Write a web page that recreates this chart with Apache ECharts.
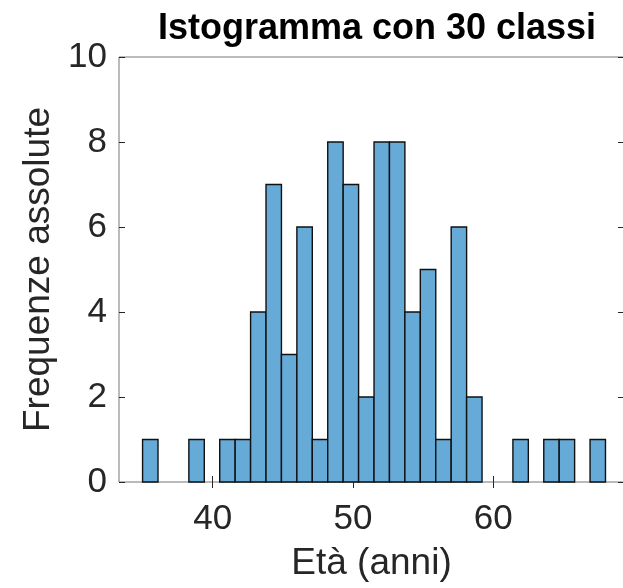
<!DOCTYPE html>
<html>
<head>
<meta charset="utf-8">
<script src="https://cdn.jsdelivr.net/npm/echarts@6/dist/echarts.min.js"></script>
<style>
  html, body { margin: 0; padding: 0; background: #fff; }
  #main { width: 623px; height: 588px; }
</style>
</head>
<body>
<div id="main"></div>
<script>
// histogram: 30 classes of width 1.1 starting at 35
const binStart = 35
const binWidth = 1.1
const counts = [1, 0, 0, 1, 0, 1, 1, 4, 7, 3, 6, 1, 8, 7, 2, 8, 8, 4, 5, 1, 6, 2, 0, 0, 1, 0, 1, 1, 0, 1]
const xTicks = [40, 50, 60]

const bins = counts.map((c, i) => [binStart + i * binWidth, binStart + (i + 1) * binWidth, c])

const fontFamily = 'Liberation Sans, Arial, sans-serif'
const axisColor = '#262626'

const myChart = echarts.init(document.getElementById('main'))

myChart.setOption({
  animation: false,
  title: {
    text: 'Istogramma con 30 classi',
    left: 372,
    textAlign: 'center',
    top: 6,
    textStyle: { fontFamily, fontSize: 36, fontWeight: 'bold', color: '#000' }
  },
  grid: {
    left: 119, right: -1, top: 57, bottom: 106,
    outerBoundsMode: 'none',
    containLabel: false,
    show: true, borderColor: '#777', borderWidth: 1
  },
  xAxis: [
    {
      type: 'value', min: 33.32, max: 69.32,
      name: 'Età (anni)', nameLocation: 'middle', nameGap: 63,
      nameTextStyle: { fontFamily, fontSize: 37, color: axisColor },
      axisLine: { show: false },
      splitLine: { show: false },
      axisTick: { show: true, inside: true, length: 6, customValues: xTicks, lineStyle: { color: axisColor } },
      axisLabel: { customValues: xTicks, fontFamily, fontSize: 35, color: axisColor, margin: 20 }
    },
    {
      type: 'value', position: 'top', min: 33.32, max: 69.32,
      axisLine: { show: false },
      splitLine: { show: false },
      axisTick: { show: true, inside: true, length: 6, customValues: xTicks, lineStyle: { color: axisColor } },
      axisLabel: { show: false }
    }
  ],
  yAxis: [
    {
      type: 'value', min: 0, max: 10, interval: 2,
      name: 'Frequenze assolute', nameLocation: 'middle', nameGap: 62, nameRotate: 90,
      nameTextStyle: { fontFamily, fontSize: 37, color: axisColor },
      axisLine: { show: false },
      splitLine: { show: false },
      axisTick: { show: true, inside: true, length: 6, lineStyle: { color: axisColor } },
      axisLabel: { fontFamily, fontSize: 35, color: axisColor, margin: 12 }
    },
    {
      type: 'value', position: 'right', min: 0, max: 10, interval: 2,
      axisLine: { show: false },
      splitLine: { show: false },
      axisTick: { show: true, inside: true, length: 6, lineStyle: { color: axisColor } },
      axisLabel: { show: false }
    }
  ],
  series: [
    {
      type: 'custom',
      data: bins,
      encode: { x: [0, 1], y: 2 },
      renderItem: (params, api) => {
        const c = api.value(2)
        if (c === 0) return null
        const p0 = api.coord([api.value(0), 0])
        const p1 = api.coord([api.value(1), c])
        return {
          type: 'rect',
          shape: { x: p0[0], y: p1[1], width: p1[0] - p0[0], height: p0[1] - p1[1] },
          style: { fill: '#66AAD7', stroke: '#111', lineWidth: 1.4 }
        }
      }
    }
  ]
})
</script>
</body>
</html>
